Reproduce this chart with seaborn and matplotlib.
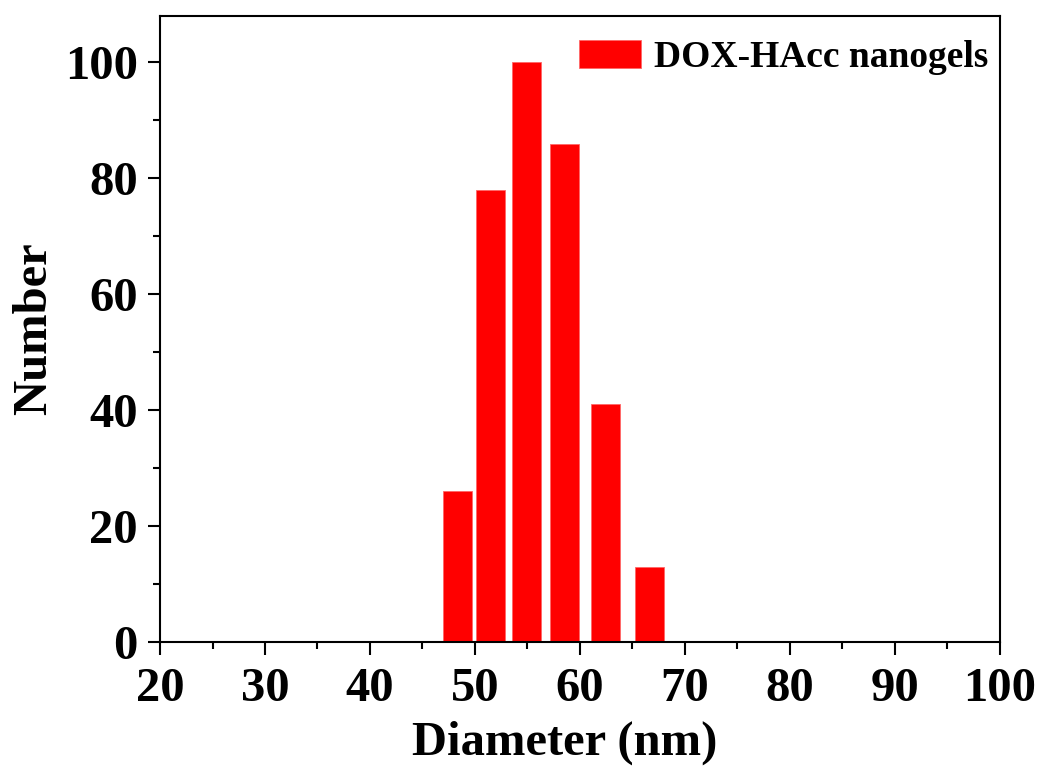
import matplotlib
matplotlib.use("Agg")
import matplotlib.pyplot as plt
from matplotlib.ticker import MultipleLocator
import seaborn as sns
import pandas as pd

# Size distribution of the nanogels
diameters = [48.3, 51.5, 54.9, 58.5, 62.4, 66.6]   # bin centres (nm)
counts = [26, 78, 100, 86, 41, 13]
series_label = "DOX-HAcc nanogels"
bar_color = "#ff0000"

sns.set_theme(style="ticks")
plt.rcParams["font.family"] = ["Liberation Serif", "DejaVu Serif"]
plt.rcParams["font.weight"] = "bold"
for key in ["text.color", "axes.labelcolor", "xtick.color", "ytick.color",
            "axes.edgecolor"]:
    plt.rcParams[key] = "black"

df = pd.DataFrame({"Diameter": diameters, "Number": counts})

fig = plt.figure(figsize=(10.41, 7.70), dpi=100)
ax = fig.add_axes([0.1537, 0.1662, 0.8069, 0.8130])

sns.barplot(data=df, x="Diameter", y="Number", native_scale=True,
            width=0.86, color=bar_color, saturation=1, label=series_label,
            edgecolor="#ff6666", linewidth=0.6, ax=ax)

ax.set_xlim(20, 100)
ax.set_ylim(0, 108)
ax.xaxis.set_major_locator(MultipleLocator(10))
ax.xaxis.set_minor_locator(MultipleLocator(5))
ax.yaxis.set_major_locator(MultipleLocator(20))
ax.yaxis.set_minor_locator(MultipleLocator(10))

for side in ["left", "right", "top", "bottom"]:
    ax.spines[side].set_visible(True)
    ax.spines[side].set_linewidth(1.5)
    ax.spines[side].set_color("black")

ax.tick_params(which="both", direction="out", width=1.5, color="black",
               top=False, right=False)
ax.tick_params(which="major", length=9, labelsize=35, labelcolor="black")
ax.tick_params(axis="x", which="major", pad=9)
ax.tick_params(axis="y", which="major", pad=7)
ax.tick_params(which="minor", length=5)
for lab in ax.get_xticklabels() + ax.get_yticklabels():
    lab.set_fontweight("bold")

ax.set_xlabel("Diameter (nm)", fontsize=35, fontweight="bold", color="black")
ax.set_ylabel("Number", fontsize=35, fontweight="bold", color="black")
ax.xaxis.set_label_coords(0.482, -0.125)
ax.yaxis.set_label_coords(-0.124, 0.5)

ax.legend(loc="upper right", bbox_to_anchor=(0.986, 0.962), frameon=False,
          prop={"size": 27, "weight": "bold"}, handlelength=1.66,
          handleheight=0.8, handletextpad=0.35, borderpad=0, borderaxespad=0,
          labelcolor="black")

fig.savefig("out.png", dpi=100, facecolor="white")
